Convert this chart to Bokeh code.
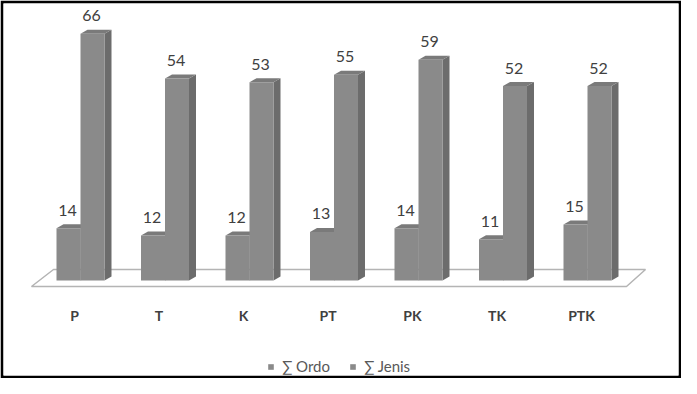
from bokeh.plotting import figure
from bokeh.models import Range1d, Legend, LegendItem, ColumnDataSource
from bokeh.embed import file_html
from bokeh.resources import INLINE
from bokeh.core.properties import value

categories = ["P", "T", "K", "PT", "PK", "TK", "PTK"]
ordo = [14, 12, 12, 13, 14, 11, 15]
jenis = [66, 54, 53, 55, 59, 52, 52]
series_names = ["\u2211 Ordo", "\u2211 Jenis"]

W, H = 681, 378
B = 3
FW, FH = W - 2 * B, H - 2 * B
PX_X = 84.5   # px per category
PX_Y = 3.74   # px per unit
x0 = -77 / PX_X
y1 = 277 / PX_Y


def dx(px):
    return px / PX_X


def dy(px):
    return px / PX_Y


p = figure(width=W, height=H,
           x_range=Range1d(x0, x0 + FW / PX_X),
           y_range=Range1d(y1 - FH / PX_Y, y1),
           output_backend="svg", toolbar_location=None,
           x_axis_location=None, y_axis_location=None,
           min_border=B, border_fill_color="black",
           background_fill_color="white", outline_line_color=None)
p.grid.visible = False

n = len(categories) - 1
# floor plane
floor_x = [0 - dx(49), n + dx(39), n + dx(58), 0 - dx(27)]
floor_y = [0 - dy(6), 0 - dy(6), 0 + dy(11), 0 + dy(11)]
p.patch(floor_x, floor_y, fill_color="white", line_color="#b4b4b4", line_width=1.5)

BW = dx(24)
DX, DY = dx(7), dy(4)
FRONT, SIDE, TOP = "#8a8a8a", "#6c6c6c", "#7a7a7a"

renderers = []
for k, vals in enumerate([ordo, jenis]):
    lefts = [i - BW + k * BW for i in range(len(categories))]
    rights = [l + BW for l in lefts]
    side_xs = [[r, r + DX, r + DX, r] for r in rights]
    side_ys = [[0, DY, v + DY, v] for v in vals]
    top_xs = [[l, r, r + DX, l + DX] for l, r in zip(lefts, rights)]
    top_ys = [[v, v, v + DY, v + DY] for v in vals]
    p.patches(side_xs, side_ys, fill_color=SIDE, line_color=None)
    p.patches(top_xs, top_ys, fill_color=TOP, line_color=None)
    r = p.quad(left=lefts, right=rights, bottom=0, top=vals,
               fill_color=FRONT, line_color=None)
    renderers.append(r)
    src = ColumnDataSource(dict(x=[(l + rr) / 2 for l, rr in zip(lefts, rights)],
                                y=vals, t=[str(v) for v in vals]))
    p.text(x="x", y="y", text="t", source=src, text_align="center",
           text_baseline="middle", y_offset=-18, x_offset=-1,
           text_font=value("Lato"), text_font_size="16px", text_color="#404040")

csrc = ColumnDataSource(dict(x=list(range(len(categories))), y=[0] * len(categories), t=categories))
p.text(x="x", y="y", text="t", source=csrc, text_align="center", text_baseline="middle",
       x_offset=-6, y_offset=35, text_font=value("Lato"), text_font_style="bold",
       text_font_size="14px", text_color="#404040")

legend = Legend(items=[LegendItem(label=series_names[0], renderers=[renderers[0]]),
                       LegendItem(label=series_names[1], renderers=[renderers[1]])],
                orientation="horizontal", location=(264, 0),
                glyph_width=7, glyph_height=7, label_standoff=8, spacing=19,
                padding=0, margin=0, border_line_color=None, background_fill_alpha=0,
                label_text_font="Lato", label_text_font_size="15px",
                label_text_color="#595959", label_height=14)
p.add_layout(legend, "center")

open("out.html", "w").write(file_html(p, INLINE))
